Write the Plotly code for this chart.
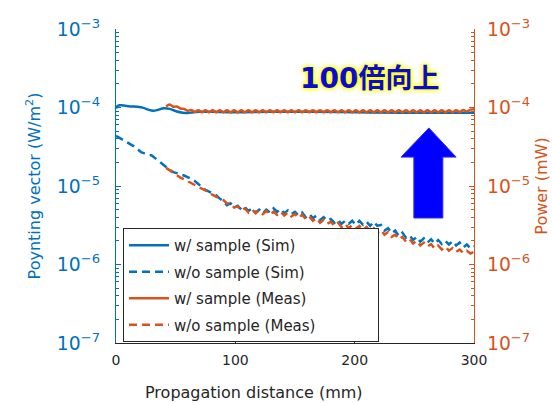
import plotly.graph_objects as go

BLUE = "#0072BD"
ORANGE = "#D95319"
DARK = "#262626"
FONT = "DejaVu Sans"
CJK = "Noto Sans CJK JP"

# ---- data ----
# Simulation with sample (W/m^2, in units of 1e-5)
sim_w_x = [0, 1, 3, 6, 10, 14, 18, 23, 27, 31, 35, 40, 45, 51, 56, 60, 65, 70, 80, 100, 130, 160, 200, 240, 270, 300]
sim_w_y = [9.7, 10.3, 10.7, 10.6, 10.4, 10.3, 10.2, 9.9, 9.4, 9.1, 9.3, 9.8, 9.6, 8.9, 8.6, 8.5, 8.7, 8.8, 8.8, 8.7,
           8.8, 8.8, 8.7, 8.6, 8.6, 8.6]

# Simulation without sample (W/m^2, in units of 1e-6), every 3 mm from 0 to 300
sim_wo_y = [43.6, 41.0, 38.5, 36.5, 34.7, 32.0, 29.5, 27.0, 26.0, 25.2, 24.5, 22.5, 20.5, 19.2, 17.5, 16.0, 15.0,
            14.6, 14.2, 13.6, 13.0, 12.4, 11.6, 10.6, 9.6, 8.9, 8.5, 8.1, 7.6, 6.9,
            6.4, 5.7, 6.0, 5.3, 5.6, 5.0, 5.4, 4.8, 5.2, 4.6, 5.0, 4.5, 5.0, 4.6, 5.2, 4.7, 5.1, 4.5, 4.9, 4.4,
            4.7, 4.2, 4.6, 4.0, 4.4, 3.9, 4.2, 3.7, 4.0, 3.6, 3.8, 3.4, 3.7, 3.3, 3.6, 3.3, 3.6, 3.2, 3.6, 3.2,
            3.5, 3.1, 3.5, 3.1, 3.2, 2.7, 2.9, 2.5, 2.7, 2.3, 2.55, 2.2, 2.35, 2.05, 2.25, 1.95, 2.15, 1.9, 2.1,
            1.85, 2.05, 1.82, 2.0, 1.8, 1.98, 1.75, 1.9, 1.65, 1.8, 1.6, 1.7]
sim_wo_x = [3 * i for i in range(len(sim_wo_y))]

# Measurement with sample (mW, in units of 1e-5), every 3 mm from 42 to 300
meas_w_y = [10.3, 10.9, 10.2, 10.3, 9.7, 9.6, 9.1, 9.3, 8.8, 9.2, 8.7,
            9.2, 8.7, 9.2, 8.7, 9.2, 8.7, 9.2, 8.7, 9.2, 8.7, 9.2, 8.7, 9.2, 8.7, 9.2, 8.7, 9.2, 8.7, 9.2, 8.7,
            9.2, 8.7, 9.2, 8.7, 9.2, 8.7, 9.2, 8.7, 9.2, 8.7, 9.2, 8.7, 9.2, 8.7, 9.2, 8.7, 9.2, 8.7, 9.2, 8.7,
            9.2, 8.7, 9.2, 8.7, 9.2, 8.7, 9.2, 8.7, 9.2, 8.7, 9.2, 8.7, 9.2, 8.7, 9.2, 8.7, 9.2, 8.7, 9.2, 8.7,
            9.2, 8.7, 9.2, 8.7, 9.2, 8.7, 9.2, 8.7, 9.2, 8.7, 9.2, 8.8, 9.3, 8.9, 9.4, 9.5]
meas_w_x = [42 + 3 * i for i in range(len(meas_w_y))]

# Measurement without sample (mW, in units of 1e-6), every 3 mm from 42 to 300
meas_wo_y = [17.0, 15.8, 14.6, 13.6, 12.8, 12.2, 11.6, 11.0, 10.3, 9.7, 9.2, 8.8, 8.3, 7.7, 7.2, 6.9, 6.6,
             6.0, 6.0, 5.3, 5.5, 4.9, 5.2, 4.6, 5.0, 4.5, 4.9, 4.4, 4.8, 4.3, 4.7, 4.3, 4.7, 4.2, 4.6, 4.1,
             4.4, 3.9, 4.3, 3.8, 4.1, 3.6, 3.9, 3.4, 3.7, 3.3, 3.5, 3.1, 3.4, 3.0, 3.3, 2.9, 3.2, 2.85, 3.1,
             2.75, 3.0, 2.65, 2.9, 2.55, 2.75, 2.4, 2.6, 2.25, 2.4, 2.1, 2.25, 1.95, 2.1, 1.85, 2.0, 1.75,
             1.9, 1.7, 1.82, 1.6, 1.75, 1.55, 1.68, 1.5, 1.62, 1.45, 1.55, 1.4, 1.5, 1.38, 1.45]
meas_wo_x = [42 + 3 * i for i in range(len(meas_wo_y))]

x_ticks = [0, 100, 200, 300]
PAD = "\u00a0" * 12  # trailing room inside the legend box, as in the original

fig = go.Figure()
fig.add_trace(go.Scatter(x=sim_w_x, y=[v * 1e-5 for v in sim_w_y], mode="lines", name="w/ sample (Sim)",
                         line=dict(color=BLUE, width=2.5, shape="spline"), legendgroup="a"))
fig.add_trace(go.Scatter(x=sim_wo_x, y=[v * 1e-6 for v in sim_wo_y], mode="lines", name="w/o sample (Sim)",
                         line=dict(color=BLUE, width=2.5, dash="8px,5px"), legendgroup="b"))
fig.add_trace(go.Scatter(x=meas_w_x, y=[v * 1e-5 for v in meas_w_y], mode="lines", name="w/ sample (Meas)",
                         line=dict(color=ORANGE, width=2.5, shape="spline"), yaxis="y2", legendgroup="c"))
fig.add_trace(go.Scatter(x=meas_wo_x, y=[v * 1e-6 for v in meas_wo_y], mode="lines",
                         name="w/o sample (Meas)" + PAD,
                         line=dict(color=ORANGE, width=2.5, dash="8px,5px"), yaxis="y2", legendgroup="d"))

yax_common = dict(type="log", range=[-7, -3], dtick=1, exponentformat="power", showgrid=False, zeroline=False,
                  showline=True, linewidth=1, ticks="inside", ticklen=5, automargin=False,
                  minor=dict(ticks="inside", ticklen=3, showgrid=False))

fig.update_layout(
    width=552, height=403,
    margin=dict(l=116, r=78, t=29, b=60),
    paper_bgcolor="white", plot_bgcolor="white",
    font=dict(family=FONT, size=14, color=DARK),
    showlegend=True,
    legend=dict(x=0.0196, y=0.366, xanchor="left", yanchor="top", bgcolor="white",
                bordercolor=DARK, borderwidth=1, font=dict(size=15, color=DARK, family=FONT),
                itemwidth=40, tracegroupgap=4),
    xaxis=dict(range=[0, 300], tickvals=x_ticks, showgrid=False, zeroline=False, showline=True,
               linecolor=DARK, linewidth=1, ticks="inside", ticklen=5, tickcolor=DARK, automargin=False,
               tickfont=dict(size=14, color=DARK), ticklabelstandoff=4),
    yaxis=dict(**yax_common, side="left", linecolor=BLUE, tickcolor=BLUE,
               minor_tickcolor=BLUE, tickfont=dict(size=15, color=BLUE), ticklabelstandoff=12,
               title=dict(text="Poynting vector (W/m<sup>2</sup>)", font=dict(size=16, color=BLUE), standoff=12)),
    yaxis2=dict(**yax_common, side="right", overlaying="y", linecolor=ORANGE, tickcolor=ORANGE,
                minor_tickcolor=ORANGE, tickfont=dict(size=15, color=ORANGE), ticklabelstandoff=9,
                title=dict(text="Power (mW)", font=dict(size=16, color=ORANGE), standoff=6)),
)

# x-axis title (offset like the original)
fig.add_annotation(text="Propagation distance (mm)", xref="paper", yref="paper", x=0.386, y=-0.158,
                   showarrow=False, xanchor="center", yanchor="middle", font=dict(size=16, color=DARK))

# Big up arrow
fig.add_shape(type="path", xref="paper", yref="paper",
              path="M 0.874 0.685 L 0.950 0.592 L 0.913 0.592 L 0.913 0.398 L 0.832 0.398 L 0.832 0.592 "
                   "L 0.796 0.592 Z",
              fillcolor="#0000FF", line=dict(color="#3030FF", width=1))

# Callout text
fig.add_annotation(text="<b><span style='font-family:DejaVu Sans;font-size:28px'>100</span>倍向上</b>",
                   xref="paper", yref="paper", x=0.709, y=0.850,
                   showarrow=False, xanchor="center", yanchor="middle",
                   font=dict(size=27, color="#0A0AD0", family=CJK,
                             shadow="0px 0px 5px #ffff00, 0px 0px 5px #ffff00, 0px 0px 3px #ffff00"))

fig.write_html("out.html", post_script="document.body.style.margin='0';",
               config={"displayModeBar": False})
